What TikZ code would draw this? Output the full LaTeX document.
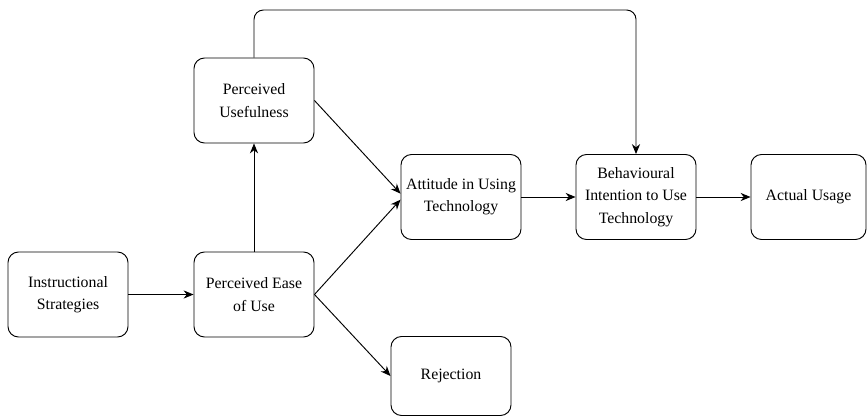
\documentclass[tikz,border=0pt]{standalone}
\usepackage{fontspec}
\setmainfont{Liberation Serif}
\newfontfamily\boxfont{Liberation Serif}
\usepackage{tikz}
\usetikzlibrary{arrows.meta,positioning}

\begin{document}
\begin{tikzpicture}[x=0.03cm,y=-0.03cm,
  box/.style={draw, rounded corners=9pt, line width=0.8pt, align=center,
    minimum width=3.6cm, minimum height=2.55cm, inner sep=2pt,
    font=\boxfont\fontsize{13.5}{19}\selectfont},
  link/.style={line width=0.8pt, -{Stealth[length=8.5pt,width=7pt]}}]
  \useasboundingbox (0,0) rectangle (867,417);
  % boxes
  \node[box] (instr) at (68,294.5) {Instructional\\Strategies};
  \node[box] (ease) at (254,294.5) {Perceived Ease\\of Use};
  \node[box] (useful) at (254,100.5) {Perceived\\Usefulness};
  \node[box] (attit) at (461,197) {Attitude in Using\\Technology};
  \node[box] (intent) at (636,197) {Behavioural\\Intention to Use\\Technology};
  \node[box, minimum width=3.45cm] (usage) at (808.5,197) {Actual Usage};
  \node[box, minimum height=2.37cm] (reject) at (451,376) {Rejection};
  % arrows
  \draw[link] (instr) -- (ease);
  \draw[link] (ease) -- (useful);
  \draw[link] (useful.east) -- ([yshift=0.1cm]attit.west);
  \draw[link] (ease.east) -- ([yshift=-0.08cm]attit.west);
  \draw[link] (ease.east) -- (reject.west);
  \draw[link] (attit) -- (intent);
  \draw[link] (intent) -- (usage);
  \draw[link, rounded corners=8pt] (useful.north) |- (636,10) -- (intent.north);
\end{tikzpicture}
\end{document}
